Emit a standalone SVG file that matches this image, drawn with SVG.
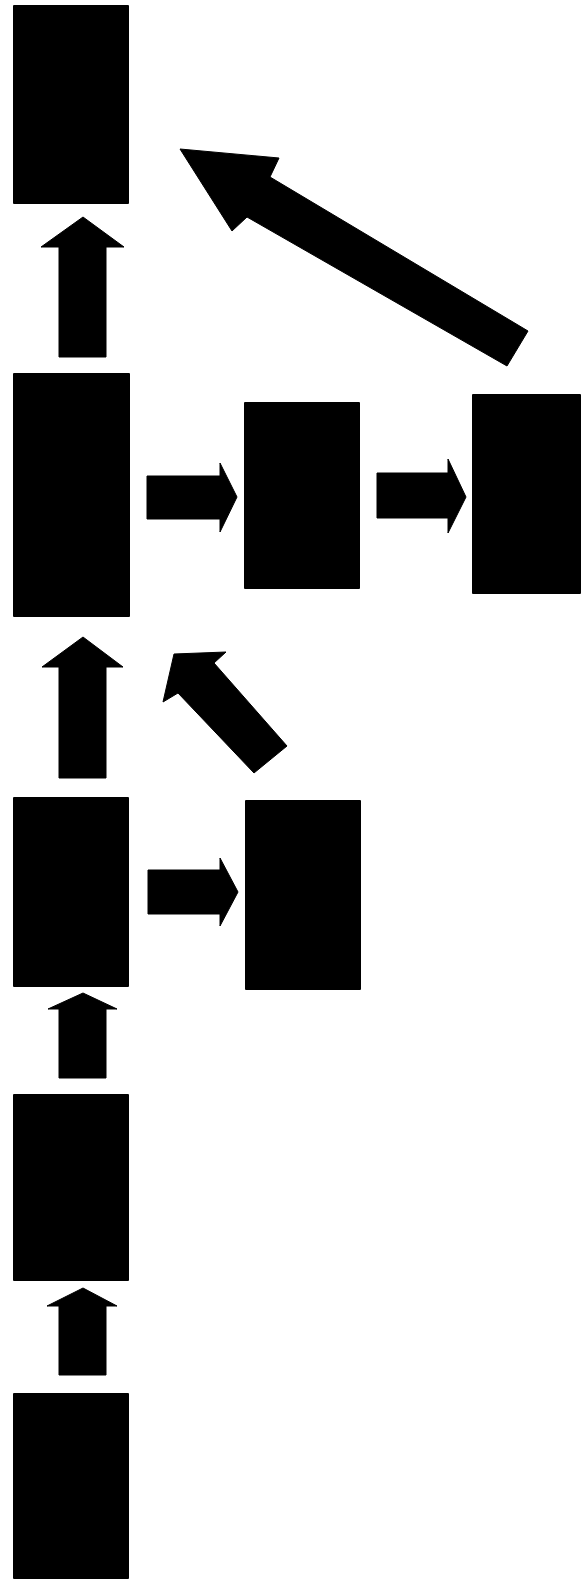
<svg xmlns="http://www.w3.org/2000/svg" width="581" height="1579" viewBox="0 0 581 1579">
<style>
.node{fill:#000;}
.arrow{fill:#000;stroke:#000;stroke-width:1;stroke-linejoin:round;}
</style>
<rect width="581" height="1579" fill="#fff"/>
<g id="nodes">
<g id="n1"><rect class="node" x="13" y="5" width="116" height="199" rx="1"/></g>
<g id="n2"><rect class="node" x="13" y="373" width="117" height="244" rx="1"/></g>
<g id="n3"><rect class="node" x="244" y="402" width="116" height="187" rx="1"/></g>
<g id="n4"><rect class="node" x="472" y="394" width="109" height="200" rx="1"/></g>
<g id="n5"><rect class="node" x="13" y="797" width="116" height="190" rx="1"/></g>
<g id="n6"><rect class="node" x="245" y="800" width="116" height="190" rx="1"/></g>
<g id="n7"><rect class="node" x="13" y="1094" width="116" height="187" rx="1"/></g>
<g id="n8"><rect class="node" x="13" y="1393" width="116" height="186" rx="1"/></g>
</g>
<g id="connectors">
<!-- n2 -> n1 -->
<polygon class="arrow" points="59,357 106,357 106,247 124,247 83,217 41,247 59,247"/>
<!-- n4 -> n1 (diagonal) -->
<polygon class="arrow" points="507,366 528,331 270,177 279,158 180,149 232,231 247,217"/>
<!-- n2 -> n3 -->
<polygon class="arrow" points="147,476 220,476 220,463 237,497 220,532 220,519 147,519"/>
<!-- n3 -> n4 -->
<polygon class="arrow" points="377,473 448,473 448,459 466,497 448,533 448,518 377,518"/>
<!-- n5 -> n2 -->
<polygon class="arrow" points="59,778 106,778 106,667 123,667 83,637 42,667 59,667"/>
<!-- n6 -> n2 (diagonal) -->
<polygon class="arrow" points="254,773 287,746 214,663 226,652 174,654 163,702 178,693"/>
<!-- n5 -> n6 -->
<polygon class="arrow" points="148,870 220,870 220,858 238,892 220,926 220,914 148,914"/>
<!-- n7 -> n5 -->
<polygon class="arrow" points="59,1078 106,1078 106,1009 117,1009 83,993 48,1009 59,1009"/>
<!-- n8 -> n7 -->
<polygon class="arrow" points="59,1375 106,1375 106,1306 117,1306 83,1288 47,1306 59,1306"/>
</g>
</svg>
